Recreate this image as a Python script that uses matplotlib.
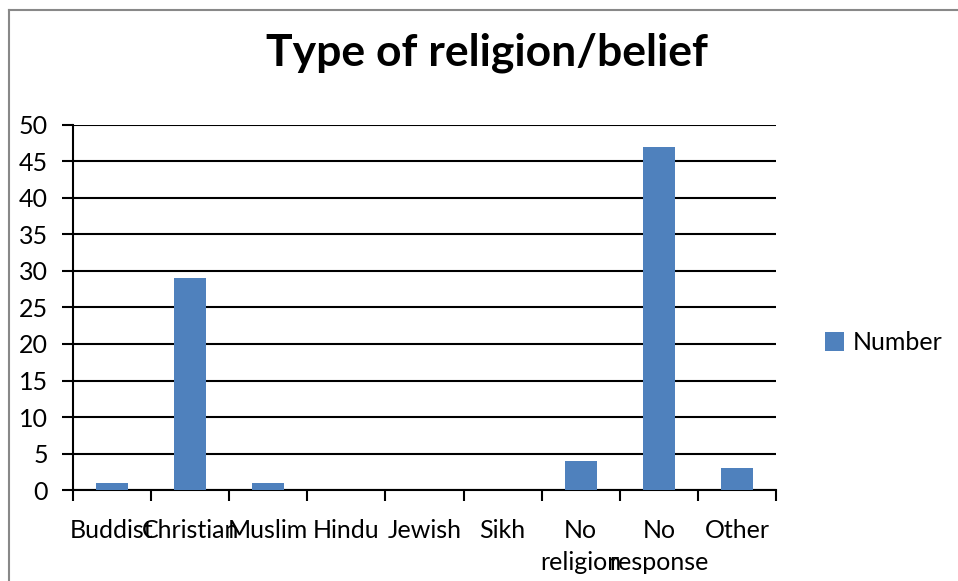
import matplotlib
matplotlib.use("Agg")
import matplotlib.pyplot as plt
from matplotlib.lines import Line2D

categories = ["Buddist", "Christian", "Muslim", "Hindu", "Jewish", "Sikh",
              "No\nreligion", "No\nresponse", "Other"]
counts = [1, 29, 1, 0, 0, 0, 4, 47, 3]

plt.rcParams["font.family"] = ["Lato", "DejaVu Sans"]

fig = plt.figure(figsize=(9.58, 5.81), dpi=100)
ax = fig.add_axes([0.0762, 0.1566, 0.7338, 0.6283])

x = range(len(categories))
bars = ax.bar(x, counts, width=0.41, color="#4f81bd", label="Number", zorder=3)

ax.set_xlim(-0.5, len(categories) - 0.5)
ax.set_ylim(0, 50)
ax.set_yticks(range(0, 51, 5))
ax.yaxis.grid(True, color="black", linewidth=1.5, zorder=0)

# category ticks sit between the bars, labels centred under them
ax.set_xticks([i - 0.5 for i in range(len(categories) + 1)])
ax.set_xticklabels([])
ax.set_xticks(list(x), minor=True)
ax.set_xticklabels(categories, minor=True, fontsize=18, linespacing=1.45)
ax.tick_params(axis="x", which="minor", length=0, pad=21)
ax.tick_params(axis="x", which="major", length=8, width=1.5, direction="out")
ax.tick_params(axis="y", length=8, width=1.5, labelsize=18, pad=10)

for side in ["top", "right"]:
    ax.spines[side].set_visible(False)
for side in ["left", "bottom"]:
    ax.spines[side].set_linewidth(1.5)

fig.text(0.508, 0.91, "Type of religion/belief", ha="center", va="center",
         fontsize=32, fontweight="bold")

fig.legend(handles=[bars], labels=["Number"], loc="center left",
           bbox_to_anchor=(0.8375, 0.41), frameon=False, fontsize=18,
           handlelength=0.75, handleheight=0.75, handletextpad=0.35)

# chart frame along the top and left edges
fig.add_artist(Line2D([8.5 / 958, 8.5 / 958], [0, 1 - 9.5 / 581],
                      transform=fig.transFigure, color="#888888", linewidth=1.5))
fig.add_artist(Line2D([8.5 / 958, 1], [1 - 9.5 / 581, 1 - 9.5 / 581],
                      transform=fig.transFigure, color="#888888", linewidth=1.5))

fig.savefig("out.png", dpi=100)
